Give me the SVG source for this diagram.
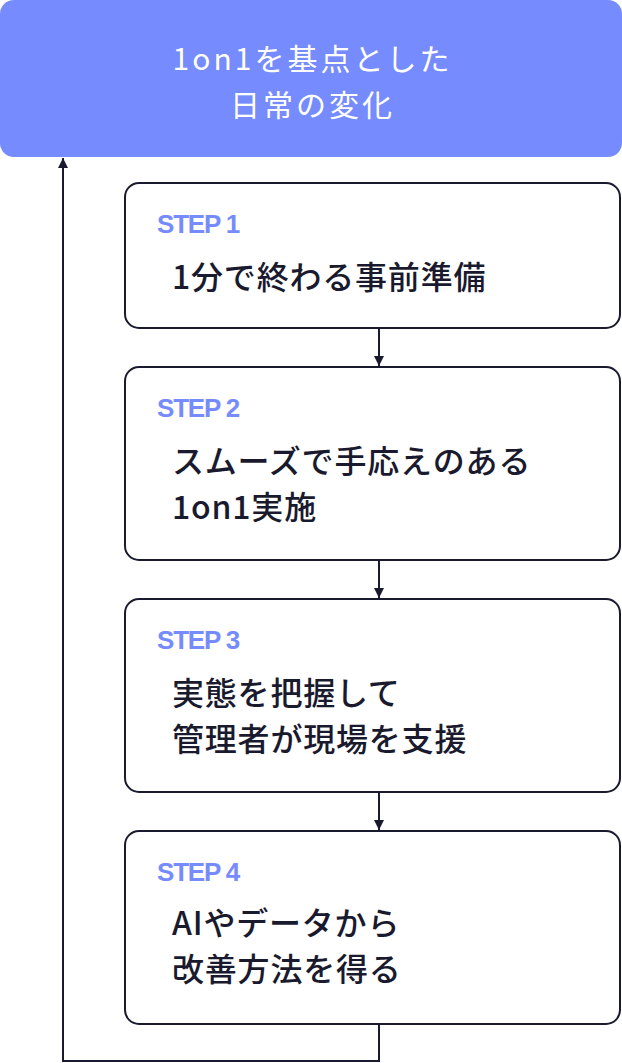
<svg xmlns="http://www.w3.org/2000/svg" width="622" height="1063" viewBox="0 0 622 1063">
<defs>
<style>
.box{fill:#ffffff;stroke:#1a1a2e;stroke-width:2}
.step{font-family:"Liberation Sans",Arial,sans-serif;font-weight:700;font-size:26px;fill:#768bfd;letter-spacing:-1.2px}
.main{font-family:"Noto Sans CJK JP",sans-serif;font-weight:500;font-size:32px;fill:#1a1a2e;letter-spacing:0.8px}
.title{font-family:"Noto Sans CJK JP",sans-serif;font-weight:400;font-size:30px;fill:#ffffff;letter-spacing:3px}
.conn{fill:none;stroke:#1a1a2e;stroke-width:2}
</style>
<marker id="ah" viewBox="0 0 10 10" refX="10" refY="5" markerWidth="10" markerHeight="10" markerUnits="userSpaceOnUse" orient="auto">
<path d="M0,0 L10,5 L0,10 z" fill="#1a1a2e"/>
</marker>
</defs>
<g id="goal">
<rect x="0" y="0" width="622" height="157" rx="14" fill="#768bfd"/>
<text class="title" x="312.5" y="70" text-anchor="middle">1on1を基点とした</text>
<text class="title" x="312.5" y="116" text-anchor="middle">日常の変化</text>
</g>
<g id="step1">
<rect class="box" x="125" y="183" width="495" height="145" rx="14"/>
<text class="step" x="157" y="233">STEP 1</text>
<text class="main" x="172" y="289">1分で終わる事前準備</text>
</g>
<g id="step2">
<rect class="box" x="125" y="367" width="495" height="193" rx="14"/>
<text class="step" x="157" y="417">STEP 2</text>
<text class="main" x="172" y="473">スムーズで手応えのある</text>
<text class="main" x="172" y="519">1on1実施</text>
</g>
<g id="step3">
<rect class="box" x="125" y="599" width="495" height="193" rx="14"/>
<text class="step" x="157" y="649">STEP 3</text>
<text class="main" x="172" y="705">実態を把握して</text>
<text class="main" x="172" y="751">管理者が現場を支援</text>
</g>
<g id="step4">
<rect class="box" x="125" y="831" width="495" height="193" rx="14"/>
<text class="step" x="157" y="881">STEP 4</text>
<text class="main" x="172" y="935">AIやデータから</text>
<text class="main" x="172" y="981">改善方法を得る</text>
</g>
<g id="connectors">
<line class="conn" x1="379" y1="329" x2="379" y2="366" marker-end="url(#ah)"/>
<line class="conn" x1="379" y1="561" x2="379" y2="598" marker-end="url(#ah)"/>
<line class="conn" x1="379" y1="793" x2="379" y2="830" marker-end="url(#ah)"/>
<polyline class="conn" points="379,1025 379,1061 63,1061 63,158" marker-end="url(#ah)"/>
</g>
</svg>
